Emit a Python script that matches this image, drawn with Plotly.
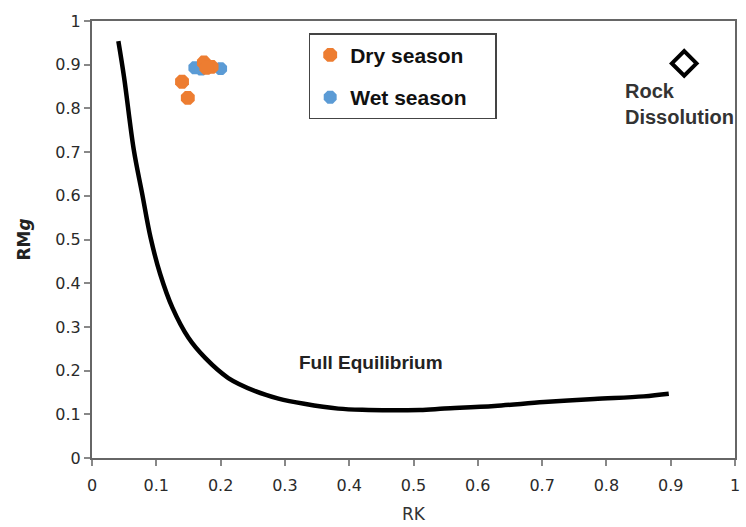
import plotly.graph_objects as go

# Full equilibrium curve
eq_rk = [0.041, 0.05, 0.065, 0.078, 0.091, 0.106, 0.125, 0.150, 0.176, 0.212,
         0.254, 0.290, 0.330, 0.383, 0.430, 0.471, 0.510, 0.548, 0.626, 0.703,
         0.781, 0.858, 0.897]
eq_rmg = [0.954, 0.87, 0.705, 0.605, 0.505, 0.421, 0.344, 0.275, 0.229, 0.183,
          0.153, 0.136, 0.124, 0.113, 0.110, 0.109, 0.110, 0.113, 0.119, 0.128,
          0.135, 0.141, 0.147]

dry_rk = [0.140, 0.149, 0.174, 0.186, 0.178]
dry_rmg = [0.861, 0.824, 0.905, 0.895, 0.893]

wet_rk = [0.160, 0.200, 0.170]
wet_rmg = [0.893, 0.891, 0.890]

rock_rk = [0.921]
rock_rmg = [0.903]

x_ticks = [0, 0.1, 0.2, 0.3, 0.4, 0.5, 0.6, 0.7, 0.8, 0.9, 1]
x_ticklabels = ["0", "0.1", "0.2", "0.3", "0.4", "0.5", "0.6", "0.7", "0.8", "0.9", "1"]
y_ticks = [0, 0.1, 0.2, 0.3, 0.4, 0.5, 0.6, 0.7, 0.8, 0.9, 1]
y_ticklabels = ["0", "0.1", "0.2", "0.3", "0.4", "0.5", "0.6", "0.7", "0.8", "0.9", "1"]

pad = "\u00a0" * 4

fig = go.Figure()
fig.add_trace(go.Scatter(x=eq_rk, y=eq_rmg, mode="lines",
                         line=dict(color="black", width=4.5, shape="spline", smoothing=1.0),
                         showlegend=False, hoverinfo="skip"))
fig.add_trace(go.Scatter(x=wet_rk, y=wet_rmg, mode="markers", name="<b>Wet season</b>" + pad,
                         marker=dict(color="#5B9BD5", size=14, symbol="octagon"),
                         legendrank=2, legendgroup="w"))
fig.add_trace(go.Scatter(x=dry_rk, y=dry_rmg, mode="markers", name="<b>Dry season</b>" + pad,
                         marker=dict(color="#ED7D31", size=15, symbol="octagon"),
                         legendrank=1, legendgroup="d"))
fig.add_trace(go.Scatter(x=rock_rk, y=rock_rmg, mode="markers", showlegend=False,
                         marker=dict(color="black", size=19, symbol="diamond-open",
                                     line=dict(color="black", width=4))))

fig.add_annotation(x=0.434, y=0.218, text="<b>Full Equilibrium</b>", showarrow=False,
                   font=dict(family="Liberation Sans", size=19, color="#222"))
fig.add_annotation(x=0.826, y=0.81, text="<b>Rock<br>Dissolution</b>", showarrow=False,
                   xanchor="left", yanchor="middle", align="left",
                   font=dict(family="Liberation Sans", size=20, color="#333"))

axis_common = dict(showgrid=False, zeroline=False, showline=True, linecolor="#666",
                   linewidth=2, mirror=True, ticks="outside", ticklen=6, tickcolor="#888",
                   tickwidth=1.5,
                   tickfont=dict(family="DejaVu Sans", size=16, color="#2a2a2a"))

fig.update_layout(
    width=746, height=527,
    margin=dict(l=92, r=6, t=21, b=68),
    paper_bgcolor="white", plot_bgcolor="white",
    xaxis=dict(range=[0, 1], tickvals=x_ticks, ticktext=x_ticklabels, ticklabelstandoff=6,
               title=dict(text="RK", font=dict(family="DejaVu Sans", size=17, color="#333"),
                          standoff=14), **axis_common),
    yaxis=dict(range=[0, 1], tickvals=y_ticks, ticktext=y_ticklabels,
               title=dict(text="<b>RM<i>g</i></b>", font=dict(family="DejaVu Sans", size=17, color="#222"),
                          standoff=20), **axis_common),
    legend=dict(x=0.337, y=0.972, xanchor="left", yanchor="top",
                bordercolor="#444", borderwidth=1.5, bgcolor="white",
                font=dict(family="Liberation Sans", size=21, color="#111"),
                tracegroupgap=12, traceorder="grouped"),
)
fig.write_html("out.html")
